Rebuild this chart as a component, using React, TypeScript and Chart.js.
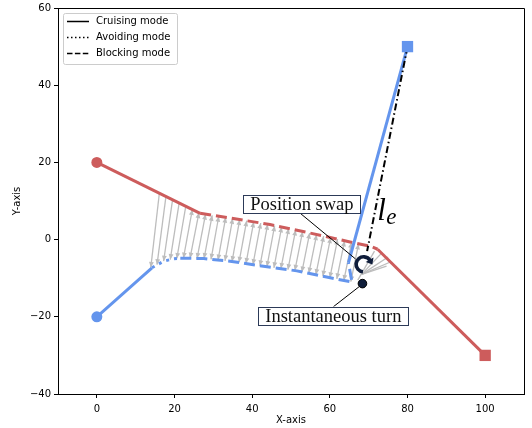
import React, { useEffect, useRef } from 'react';
import { Chart, registerables } from 'chart.js';

Chart.register(...registerables);

// ---- axis ticks ----
const xTicks = [0, 20, 40, 60, 80, 100];
const yTicks = [-40, -20, 0, 20, 40, 60];

// ---- red agent trajectory ----
const redCruiseAX = [0, 26.6];
const redCruiseAY = [20, 6.8];
const redBlockX = [26.6, 34.3, 44.6, 54.9, 65.2, 70.4, 72.3];
const redBlockY = [6.8, 5.6, 3.9, 1.7, -0.6, -1.7, -2.5];
const redCruiseBX = [72.3, 100];
const redCruiseBY = [-2.5, -30];

// ---- blue agent trajectory ----
const blueCruiseAX = [0, 14.2];
const blueCruiseAY = [-20, -7.3];
const blueAvoidX = [14.2, 17.2, 19.7, 21.5];
const blueAvoidY = [-7.3, -5.6, -5.0, -4.8];
const blueBlockX = [21.5, 27.5, 34.3, 42.9, 51.5, 60.1, 65.7, 64.8];
const blueBlockY = [-4.8, -4.9, -5.6, -6.9, -8.1, -9.9, -11.0, -6.0];
const blueCruiseBX = [64.8, 80];
const blueCruiseBY = [-6.0, 50];

// ---- l_e line (goal to swap) ----
const leX = [80, 69.6];
const leY = [50, -3.0];

// ---- gray connection arrows (blue end, red end) ----
const arrowBlueX = [13.9, 15.5, 17.2, 18.9, 20.6, 22.3, 24.0, 25.8, 27.6, 29.4, 31.2, 33.0, 34.8, 36.6, 38.4, 40.2, 42.0, 43.8, 45.6, 47.4, 49.2, 51.0, 52.8, 54.6, 56.4, 58.2, 60.0, 61.8, 63.6, 65.4];
const arrowBlueY = [-7.2, -6.5, -5.6, -5.2, -4.9, -4.8, -4.8, -4.9, -4.9, -5.1, -5.3, -5.5, -5.7, -5.9, -6.2, -6.5, -6.8, -7.0, -7.3, -7.5, -7.8, -8.0, -8.4, -8.7, -9.1, -9.5, -9.9, -10.2, -10.6, -10.9];
const arrowRedX = [16.1, 17.8, 19.5, 21.2, 22.9, 24.6, 26.3, 28.0, 29.7, 31.4, 33.2, 35.0, 36.8, 38.6, 40.4, 42.2, 44.0, 45.8, 47.6, 49.4, 51.2, 53.0, 54.8, 56.6, 58.4, 60.2, 62.0, 63.8, 65.6, 67.4];
const arrowRedY = [12.0, 11.2, 10.3, 9.5, 8.6, 7.8, 7.0, 6.6, 6.3, 6.05, 5.8, 5.5, 5.2, 4.9, 4.6, 4.3, 4.0, 3.6, 3.3, 2.9, 2.5, 2.1, 1.7, 1.3, 0.9, 0.5, 0.1, -0.3, -0.7, -1.1];

// ---- gray fan lines at the swap ----
const fanFromX = [68.2, 68.2, 68.2, 68.2, 67.2];
const fanFromY = [-9.0, -9.0, -9.0, -9.0, -10.5];
const fanToX = [73.5, 75.0, 75.6, 74.6, 71.5];
const fanToY = [-3.3, -4.5, -5.8, -6.9, -3.0];

// ---- markers / annotations ----
const swapMarker = { x: 68.7, y: -6.4 };
const turnMarker = { x: 68.4, y: -11.4 };
const swapLabel = { text: 'Position swap', x: 52.8, y: 9.1, lineFromX: 52.4, lineFromY: 6.8, lineToX: 66.6, lineToY: -5.0 };
const turnLabel = { text: 'Instantaneous turn', x: 60.9, y: -19.7, lineFromX: 60.9, lineFromY: -17.4, lineToX: 67.8, lineToY: -12.0 };
const leLabel = { x: 72.2, y: 5.0 };

const legendLabels = ['Cruising mode', 'Avoiding mode', 'Blocking mode'];

const RED = '#cd5c5c';
const BLUE = '#6495ed';
const DASH = [11, 5];
const DOT = [3, 5];

const pts = (xs: number[], ys: number[]) => xs.map((v, i) => ({ x: v, y: ys[i] }));

function drawHead(ctx: CanvasRenderingContext2D, fx: number, fy: number, tx: number, ty: number) {
  const a = Math.atan2(ty - fy, tx - fx);
  const L = 5.5, W = 2.4;
  const bx = tx - L * Math.cos(a), by = ty - L * Math.sin(a);
  ctx.beginPath();
  ctx.moveTo(tx, ty);
  ctx.lineTo(bx - W * Math.sin(a), by + W * Math.cos(a));
  ctx.lineTo(bx + W * Math.sin(a), by - W * Math.cos(a));
  ctx.closePath();
  ctx.fill();
}

function boxLabel(ctx: CanvasRenderingContext2D, text: string, cx: number, cy: number) {
  ctx.font = '18.5px "Liberation Serif", serif';
  const w = ctx.measureText(text).width + 14;
  const h = 18;
  ctx.fillStyle = '#fff';
  ctx.fillRect(cx - w / 2, cy - h / 2, w, h);
  ctx.strokeStyle = '#2c3a58';
  ctx.lineWidth = 1;
  ctx.setLineDash([]);
  ctx.strokeRect(Math.round(cx - w / 2) + 0.5, Math.round(cy - h / 2) + 0.5, Math.round(w), h);
  ctx.fillStyle = '#111';
  ctx.textAlign = 'center';
  ctx.textBaseline = 'middle';
  ctx.fillText(text, cx, cy + 1);
}

const extras = {
  id: 'extras',
  beforeDatasetsDraw(chart: any) {
    const { ctx, chartArea, scales } = chart;
    const X = (v: number) => scales.x.getPixelForValue(v);
    const Y = (v: number) => scales.y.getPixelForValue(v);
    ctx.save();
    ctx.beginPath();
    ctx.rect(chartArea.left, chartArea.top, chartArea.right - chartArea.left, chartArea.bottom - chartArea.top);
    ctx.clip();
    ctx.strokeStyle = '#bdbdbd';
    ctx.fillStyle = '#bdbdbd';
    ctx.lineWidth = 1.3;
    for (let i = 0; i < arrowBlueX.length; i++) {
      const bx = X(arrowBlueX[i]), by = Y(arrowBlueY[i]);
      const rx = X(arrowRedX[i]), ry = Y(arrowRedY[i]);
      ctx.beginPath();
      ctx.moveTo(rx, ry);
      ctx.lineTo(bx, by);
      ctx.stroke();
      drawHead(ctx, rx, ry, bx, by);
      if (arrowRedX[i] >= 24) drawHead(ctx, bx, by, rx, ry);
    }
    for (let i = 0; i < fanFromX.length; i++) {
      ctx.beginPath();
      ctx.moveTo(X(fanFromX[i]), Y(fanFromY[i]));
      ctx.lineTo(X(fanToX[i]), Y(fanToY[i]));
      ctx.stroke();
    }
    ctx.restore();
  },
  afterDatasetsDraw(chart: any) {
    const { ctx, scales } = chart;
    const X = (v: number) => scales.x.getPixelForValue(v);
    const Y = (v: number) => scales.y.getPixelForValue(v);
    ctx.save();
    // leader lines
    ctx.strokeStyle = '#000';
    ctx.lineWidth = 1;
    ctx.setLineDash([]);
    for (const l of [swapLabel, turnLabel]) {
      ctx.beginPath();
      ctx.moveTo(X(l.lineFromX), Y(l.lineFromY));
      ctx.lineTo(X(l.lineToX), Y(l.lineToY));
      ctx.stroke();
    }
    // swap marker (circular arrow)
    const cx = X(swapMarker.x), cy = Y(swapMarker.y);
    const r = 7.5;
    ctx.strokeStyle = '#0f1d3a';
    ctx.fillStyle = '#0f1d3a';
    ctx.lineWidth = 3.6;
    ctx.beginPath();
    ctx.arc(cx, cy, r, (95 * Math.PI) / 180, (330 * Math.PI) / 180);
    ctx.stroke();
    const ea = (330 * Math.PI) / 180;
    const ex = cx + r * Math.cos(ea), ey = cy + r * Math.sin(ea);
    const da = ea + Math.PI / 2;
    const tip = { x: ex + 4.5 * Math.cos(da), y: ey + 4.5 * Math.sin(da) };
    ctx.beginPath();
    ctx.moveTo(tip.x, tip.y);
    ctx.lineTo(ex - 1 * Math.cos(da) + 4.5 * Math.cos(ea), ey - 1 * Math.sin(da) + 4.5 * Math.sin(ea));
    ctx.lineTo(ex - 1 * Math.cos(da) - 4.5 * Math.cos(ea), ey - 1 * Math.sin(da) - 4.5 * Math.sin(ea));
    ctx.closePath();
    ctx.fill();
    // instantaneous turn dot
    ctx.beginPath();
    ctx.arc(X(turnMarker.x), Y(turnMarker.y), 4.3, 0, Math.PI * 2);
    ctx.fillStyle = '#0f1d3a';
    ctx.fill();
    ctx.lineWidth = 1;
    ctx.strokeStyle = '#000';
    ctx.stroke();
    // boxed labels
    boxLabel(ctx, swapLabel.text, X(swapLabel.x), Y(swapLabel.y));
    boxLabel(ctx, turnLabel.text, X(turnLabel.x), Y(turnLabel.y));
    // l_e
    ctx.fillStyle = '#000';
    ctx.textAlign = 'left';
    ctx.textBaseline = 'alphabetic';
    const lx = X(leLabel.x), ly = Y(leLabel.y);
    ctx.font = 'italic 31px "Liberation Serif", serif';
    ctx.fillText('l', lx, ly);
    const lw = ctx.measureText('l').width;
    ctx.font = 'italic 23px "Liberation Serif", serif';
    ctx.fillText('e', lx + lw + 0.5, ly + 4);
    ctx.restore();
  },
  afterDraw(chart: any) {
    const { ctx, chartArea } = chart;
    const { left, right, top, bottom } = chartArea;
    ctx.save();
    ctx.strokeStyle = '#000';
    ctx.lineWidth = 1;
    ctx.setLineDash([]);
    ctx.beginPath();
    ctx.moveTo(left, top + 0.5);
    ctx.lineTo(right + 0.5, top + 0.5);
    ctx.lineTo(right + 0.5, bottom);
    ctx.stroke();
    // legend
    const lx = left + 5, ly = top + 5, lwid = 114, lh = 51;
    ctx.fillStyle = 'rgba(255,255,255,0.8)';
    ctx.strokeStyle = '#cccccc';
    ctx.beginPath();
    ctx.roundRect(lx + 0.5, ly + 0.5, lwid, lh, 2);
    ctx.fill();
    ctx.stroke();
    const dashes = [[], [1.5, 2.5], [5.5, 2.4]];
    ctx.font = '10px "DejaVu Sans", sans-serif';
    ctx.textBaseline = 'middle';
    ctx.textAlign = 'left';
    for (let i = 0; i < legendLabels.length; i++) {
      const yy = ly + 8.5 + i * 16;
      ctx.strokeStyle = '#000';
      ctx.lineWidth = 1.5;
      ctx.setLineDash(dashes[i]);
      ctx.beginPath();
      ctx.moveTo(lx + 4, yy);
      ctx.lineTo(lx + 26, yy);
      ctx.stroke();
      ctx.fillStyle = '#000';
      ctx.fillText(legendLabels[i], lx + 33, yy);
    }
    ctx.setLineDash([]);
    // axis titles
    ctx.font = '10px "DejaVu Sans", sans-serif';
    ctx.fillStyle = '#000';
    ctx.textAlign = 'center';
    ctx.textBaseline = 'middle';
    ctx.fillText('X-axis', (left + right) / 2, 420);
    ctx.translate(17, (top + bottom) / 2);
    ctx.rotate(-Math.PI / 2);
    ctx.fillText('Y-axis', 0, 0);
    ctx.restore();
  },
};

export default function App() {
  const ref = useRef<HTMLCanvasElement | null>(null);
  useEffect(() => {
    document.body.style.margin = '0';
    const canvas = ref.current!;
    const line = (xs: number[], ys: number[], color: string, dash: number[]) => ({
      data: pts(xs, ys),
      showLine: true,
      borderColor: color,
      backgroundColor: color,
      borderWidth: 3,
      borderDash: dash,
      pointRadius: 0,
      pointHoverRadius: 0,
      borderCapStyle: 'butt',
      borderJoinStyle: 'round',
      tension: 0,
    });
    const marker = (px: number, py: number, color: string, style: string, radius: number) => ({
      data: [{ x: px, y: py }],
      showLine: false,
      pointStyle: style,
      pointRadius: radius,
      pointHoverRadius: radius,
      pointBackgroundColor: color,
      pointBorderColor: color,
      pointBorderWidth: 0,
    });
    const list: any[] = [
      line(redCruiseAX, redCruiseAY, RED, []),
      line(redBlockX, redBlockY, RED, DASH),
      line(redCruiseBX, redCruiseBY, RED, []),
      line(blueCruiseAX, blueCruiseAY, BLUE, []),
      line(blueAvoidX, blueAvoidY, BLUE, DOT),
      line(blueBlockX, blueBlockY, BLUE, DASH),
      line(blueCruiseBX, blueCruiseBY, BLUE, []),
      { ...line(leX, leY, '#000', [7, 3, 1.5, 3]), borderWidth: 2 },
      marker(redCruiseAX[0], redCruiseAY[0], RED, 'circle', 5.5),
      marker(blueCruiseAX[0], blueCruiseAY[0], BLUE, 'circle', 5.5),
      marker(redCruiseBX[1], redCruiseBY[1], RED, 'rect', 8),
      marker(blueCruiseBX[1], blueCruiseBY[1], BLUE, 'rect', 8),
    ];
    const n = list.length;
    list.forEach((d, i) => (d.order = n - i));
    const tickFont = { family: '"DejaVu Sans", sans-serif', size: 10 };
    const chart = new Chart(canvas, {
      type: 'scatter',
      data: { datasets: list },
      plugins: [extras],
      options: {
        animation: false,
        responsive: false,
        maintainAspectRatio: false,
        events: [],
        layout: { padding: { top: 3, right: 8, left: 0, bottom: 0 } },
        plugins: { legend: { display: false }, tooltip: { enabled: false } },
        scales: {
          x: {
            type: 'linear',
            min: -10,
            max: 110,
            afterBuildTicks: (s: any) => {
              s.ticks = xTicks.map((v) => ({ value: v }));
            },
            afterFit: (s: any) => {
              s.height = 34;
              s.paddingLeft = 0;
              s.paddingRight = 0;
            },
            grid: { drawOnChartArea: false, drawTicks: true, tickLength: 4, color: '#000', lineWidth: 1 },
            border: { display: true, color: '#000', width: 1 },
            ticks: { font: tickFont, color: '#000', padding: 5, maxRotation: 0, autoSkip: false },
          },
          y: {
            type: 'linear',
            min: -40,
            max: 60,
            afterBuildTicks: (s: any) => {
              s.ticks = yTicks.map((v) => ({ value: v }));
            },
            afterFit: (s: any) => {
              s.width = 58;
              s.paddingTop = 0;
              s.paddingBottom = 0;
            },
            grid: { drawOnChartArea: false, drawTicks: true, tickLength: 4, color: '#000', lineWidth: 1 },
            border: { display: true, color: '#000', width: 1 },
            ticks: {
              font: tickFont,
              color: '#000',
              padding: 3,
              autoSkip: false,
              callback: (v: any) => String(v).replace('-', '\u2212'),
            },
          },
        },
      } as any,
    });
    return () => chart.destroy();
  }, []);
  return (
    <div style={{ width: 532, height: 428 }}>
      <canvas ref={ref} width={532} height={428} style={{ display: 'block' }} />
    </div>
  );
}
